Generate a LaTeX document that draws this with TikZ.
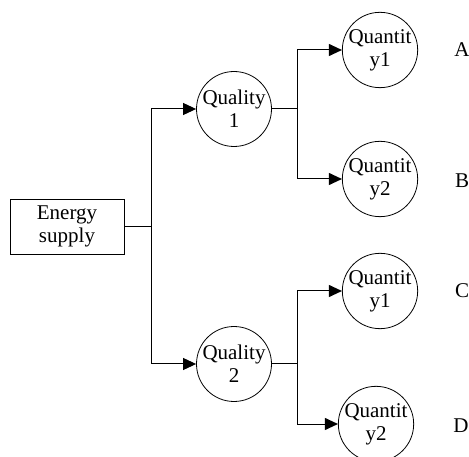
\documentclass[tikz,border=0pt]{standalone}
\usepackage{fontspec}
\setmainfont{Liberation Serif}
\usetikzlibrary{arrows.meta}
\begin{document}
\begin{tikzpicture}[x=1pt,y=-1pt,
  every node/.style={font=\fontsize{21}{23}\selectfont},
  link/.style={draw=black,line width=1pt},
  arr/.style={link,-{Triangle[length=13pt,width=12pt]}},
  circ/.style={draw=black,line width=0.8pt,circle,minimum size=75pt,inner sep=0pt,align=center},
  boxn/.style={draw=black,line width=0.8pt,rectangle,minimum width=114pt,minimum height=55pt,inner sep=0pt,align=center},
  lab/.style={inner sep=0pt}]
\useasboundingbox (0,0) rectangle (469,457);
\clip (0,0) rectangle (469,457);
\node[boxn] (es) at (67,226.5) {Energy\\supply};
\node[circ] (q1) at (234,109) {Quality\\1};
\node[circ] (q2) at (234,364) {Quality\\2};
\node[circ] (qa) at (380,50) {Quantit\\y1};
\node[circ] (qb) at (380,179) {Quantit\\y2};
\node[circ] (qc) at (380,291) {Quantit\\y1};
\node[circ] (qd) at (376,424) {Quantit\\y2};
\node[lab] (la) at (462,50) {A};
\node[lab] (lb) at (462,181) {B};
\node[lab] (lc) at (462,291) {C};
\node[lab] (ld) at (461,426) {D};
\coordinate (j0) at (151,226.5);
\coordinate (j1) at (297,109);
\coordinate (j2) at (297,364);
\draw[link] (es.east) -- (j0);
\draw[arr] (j0) |- (q1.west);
\draw[arr] (j0) |- (q2.west);
\draw[link] (q1.east) -- (j1);
\draw[arr] (j1) |- (qa.west);
\draw[arr] (j1) |- (qb.west);
\draw[link] (q2.east) -- (j2);
\draw[arr] (j2) |- (qc.west);
\draw[arr] (j2) |- (qd.west);
\end{tikzpicture}
\end{document}
